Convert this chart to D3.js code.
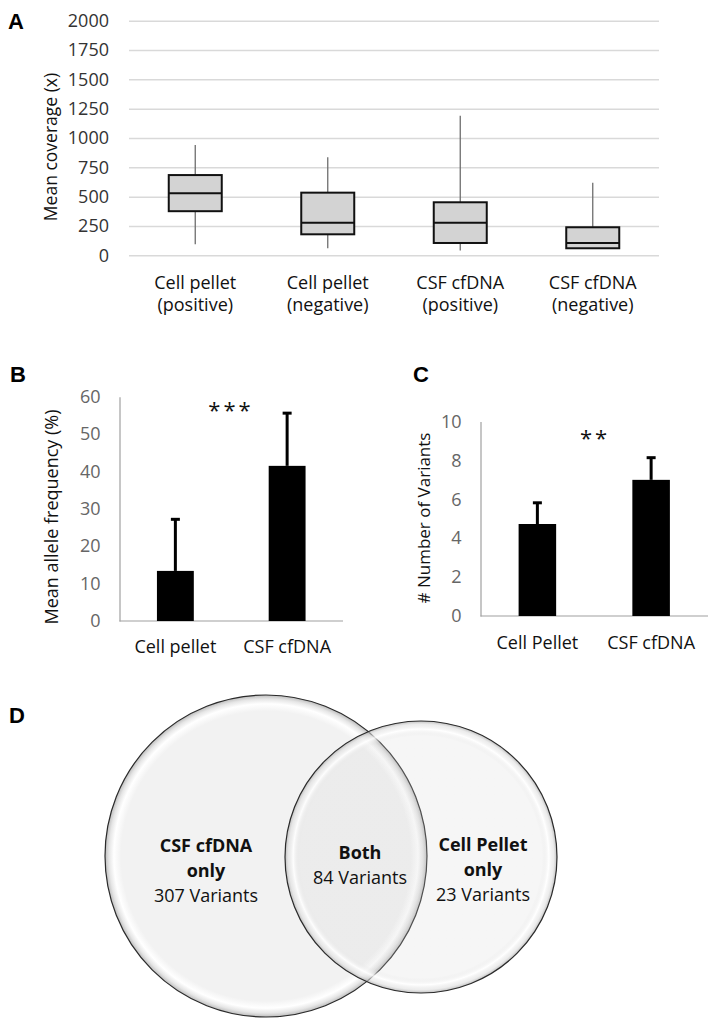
<!DOCTYPE html>
<html>
<head>
<meta charset="utf-8">
<script src="https://cdn.jsdelivr.net/npm/d3@7"></script>
<style>
  body { margin: 0; background: #fff; }
  svg { display: block; font-family: "Open Sans", "Noto Sans", sans-serif; }
  text.panel-letter { font-family: "Liberation Sans", Arial, sans-serif; font-weight: bold; font-size: 22px; }
</style>
</head>
<body>
<div id="figure"></div>
<script>
// panel A - mean coverage box plots
const coverageCategories = [
    ["Cell pellet", "(positive)"],
    ["Cell pellet", "(negative)"],
    ["CSF cfDNA", "(positive)"],
    ["CSF cfDNA", "(negative)"]
];
const coverageMin = [94, 60, 40, 55];
const coverageQ1 = [376, 179, 105, 60];
const coverageMedian = [530, 278, 278, 105];
const coverageQ3 = [684, 534, 452, 239];
const coverageMax = [940, 835, 1190, 619];
const coverageTicks = [0, 250, 500, 750, 1000, 1250, 1500, 1750, 2000];

// panel B - allele frequency
const afCategories = ["Cell pellet", "CSF cfDNA"];
const afMeans = [13.4, 41.5];
const afErrors = [13.8, 14.1];
const afTicks = [0, 10, 20, 30, 40, 50, 60];

// panel C - number of variants
const varCategories = ["Cell Pellet", "CSF cfDNA"];
const varMeans = [4.73, 7.0];
const varErrors = [1.09, 1.14];
const varTicks = [0, 2, 4, 6, 8, 10];

// panel D - venn
const vennLabels = [["CSF cfDNA", "only"], ["Both"], ["Cell Pellet", "only"]];
const vennCounts = [307, 84, 23];

const WIDTH = 711;
const HEIGHT = 1020;

const svg = d3.select("#figure").append("svg")
    .attr("width", WIDTH)
    .attr("height", HEIGHT);

// panel letters
[["A", 8, 29], ["B", 10, 382], ["C", 413, 382], ["D", 9, 723]].forEach(l => {
    svg.append("text").attr("class", "panel-letter")
        .attr("x", l[1]).attr("y", l[2]).text(l[0]);
});

// ---------- A ----------
function drawCoverage() {
    const left = 129, right = 659, top = 20.7, bottom = 255.3;
    const x = d3.scaleBand()
        .domain(coverageCategories.map((d, i) => i))
        .range([left, right]);
    const y = d3.scaleLinear().domain([0, 2000]).range([bottom, top]);

    const g = svg.append("g");

    // gridlines + tick labels
    const yAxis = d3.axisLeft(y)
        .tickValues(coverageTicks)
        .tickFormat(d3.format("d"))
        .tickSizeInner(-(right - left))
        .tickSizeOuter(0)
        .tickPadding(20);
    const ax = g.append("g")
        .attr("transform", `translate(${left},0)`)
        .call(yAxis);
    ax.select(".domain").remove();
    ax.selectAll(".tick line").attr("stroke", "#d9d9d9").attr("stroke-width", 1.5);
    ax.selectAll(".tick text")
        .attr("font-size", 18)
        .attr("fill", "#333")
        .attr("font-family", "Open Sans, sans-serif");

    const boxW = x.bandwidth() * 0.4;

    coverageCategories.forEach((c, i) => {
        const cx = x(i) + x.bandwidth() / 2;
        // whiskers
        g.append("line")
            .attr("x1", cx).attr("x2", cx)
            .attr("y1", y(coverageMax[i])).attr("y2", y(coverageQ3[i]))
            .attr("stroke", "#6e6e6e").attr("stroke-width", 1.3);
        g.append("line")
            .attr("x1", cx).attr("x2", cx)
            .attr("y1", y(coverageQ1[i])).attr("y2", y(coverageMin[i]))
            .attr("stroke", "#6e6e6e").attr("stroke-width", 1.3);
        // box
        g.append("rect")
            .attr("x", cx - boxW / 2)
            .attr("y", y(coverageQ3[i]))
            .attr("width", boxW)
            .attr("height", y(coverageQ1[i]) - y(coverageQ3[i]))
            .attr("fill", "#d3d3d3")
            .attr("stroke", "#111")
            .attr("stroke-width", 2);
        g.append("line")
            .attr("x1", cx - boxW / 2).attr("x2", cx + boxW / 2)
            .attr("y1", y(coverageMedian[i])).attr("y2", y(coverageMedian[i]))
            .attr("stroke", "#111").attr("stroke-width", 2);
        // category label (two lines)
        const t = g.append("text")
            .attr("text-anchor", "middle")
            .attr("font-size", 18)
            .attr("fill", "#111");
        c.forEach((line, j) => {
            t.append("tspan").attr("x", cx).attr("y", 289 + j * 22).text(line);
        });
    });

    g.append("text")
        .attr("transform", `translate(57,147) rotate(-90)`)
        .attr("text-anchor", "middle")
        .attr("font-size", 17.5)
        .attr("fill", "#111")
        .text("Mean coverage (x)");
}

// ---------- B and C bar charts ----------
function drawBars(opts) {
    const x = d3.scaleBand()
        .domain(opts.categories)
        .range([opts.left, opts.right])
        .paddingInner(0.67)
        .paddingOuter(0.335);
    const y = d3.scaleLinear().domain(opts.domain).range([opts.bottom, opts.top]);

    const g = svg.append("g");

    const yAxis = d3.axisLeft(y)
        .tickValues(opts.ticks)
        .tickSize(0)
        .tickPadding(opts.tickPad);
    const ax = g.append("g")
        .attr("transform", `translate(${opts.left},0)`)
        .call(yAxis);
    ax.select(".domain").attr("stroke", "#a0a0a0").attr("stroke-width", 1.2);
    ax.selectAll(".tick text")
        .attr("font-size", 18)
        .attr("fill", "#666")
        .attr("font-family", "Open Sans, sans-serif");

    // x axis line
    g.append("line")
        .attr("x1", opts.left).attr("x2", opts.right)
        .attr("y1", y(0)).attr("y2", y(0))
        .attr("stroke", "#a0a0a0").attr("stroke-width", 1.2);

    // bars
    g.selectAll(".bar")
        .data(opts.categories)
        .enter().append("rect")
        .attr("class", "bar")
        .attr("x", d => x(d))
        .attr("y", (d, i) => y(opts.means[i]))
        .attr("width", x.bandwidth())
        .attr("height", (d, i) => y(0) - y(opts.means[i]))
        .attr("fill", "#000");

    // error bars (upper only)
    opts.categories.forEach((c, i) => {
        const cx = x(c) + x.bandwidth() / 2;
        const yTop = y(opts.means[i] + opts.errors[i]);
        g.append("line")
            .attr("x1", cx).attr("x2", cx)
            .attr("y1", y(opts.means[i])).attr("y2", yTop)
            .attr("stroke", "#000").attr("stroke-width", 3);
        g.append("line")
            .attr("x1", cx - 4.5).attr("x2", cx + 4.5)
            .attr("y1", yTop).attr("y2", yTop)
            .attr("stroke", "#000").attr("stroke-width", 3);
        g.append("text")
            .attr("x", cx)
            .attr("y", opts.labelY)
            .attr("text-anchor", "middle")
            .attr("font-size", 18)
            .attr("fill", "#111")
            .text(c);
    });

    // significance stars
    g.append("text")
        .attr("x", opts.starX)
        .attr("y", opts.starY)
        .attr("text-anchor", "middle")
        .attr("font-size", 22)
        .attr("letter-spacing", 3)
        .attr("fill", "#111")
        .text(opts.stars);

    g.append("text")
        .attr("transform", `translate(${opts.titleX},${opts.titleY}) rotate(-90)`)
        .attr("text-anchor", "middle")
        .attr("font-size", opts.titleSize)
        .attr("fill", "#111")
        .text(opts.title);
}

drawCoverage();

drawBars({
    categories: afCategories, means: afMeans, errors: afErrors, ticks: afTicks,
    domain: [0, 60], left: 119.5, right: 343, top: 396.7, bottom: 621,
    tickPad: 19, labelY: 653, starX: 231, starY: 418, stars: "***",
    title: "Mean allele frequency (%)", titleX: 58, titleY: 517, titleSize: 18
});

drawBars({
    categories: varCategories, means: varMeans, errors: varErrors, ticks: varTicks,
    domain: [0, 10], left: 480.5, right: 708, top: 421.5, bottom: 616,
    tickPad: 19, labelY: 649, starX: 595, starY: 446, stars: "**",
    title: "# Number of Variants", titleX: 430, titleY: 518, titleSize: 17
});

// ---------- D venn ----------
function drawVenn() {
    const defs = svg.append("defs");

    const leftGrad = defs.append("radialGradient").attr("id", "vennLeft");
    [[0, "#f2f2f2", 1], [0.9, "#f2f2f2", 1], [0.945, "#ffffff", 1], [0.975, "#e6e6e6", 1], [1, "#bdbdbd", 1]]
        .forEach(s => leftGrad.append("stop").attr("offset", s[0]).attr("stop-color", s[1]).attr("stop-opacity", s[2]));

    const rightGrad = defs.append("radialGradient").attr("id", "vennRight");
    [[0, "#d6d6d6", 0.22], [0.89, "#d6d6d6", 0.22], [0.94, "#ffffff", 0.85], [0.975, "#dedede", 0.55], [1, "#aaaaaa", 0.75]]
        .forEach(s => rightGrad.append("stop").attr("offset", s[0]).attr("stop-color", s[1]).attr("stop-opacity", s[2]));

    // layout of the two sets (pixel positions, not data)
    const circles = [
        { cx: 266, cy: 856, r: 161, fill: "url(#vennLeft)" },
        { cx: 421, cy: 857, r: 136, fill: "url(#vennRight)" }
    ];
    svg.append("g").selectAll("circle")
        .data(circles)
        .enter().append("circle")
        .attr("cx", d => d.cx)
        .attr("cy", d => d.cy)
        .attr("r", d => d.r)
        .attr("fill", d => d.fill)
        .attr("stroke", "#2a2a2a")
        .attr("stroke-width", 1.2);

    const labelPos = [
        { x: 206, y: 852 },
        { x: 360, y: 859 },
        { x: 483, y: 851 }
    ];
    vennLabels.forEach((lines, i) => {
        const t = svg.append("text")
            .attr("text-anchor", "middle")
            .attr("font-size", 18)
            .attr("fill", "#111");
        lines.forEach((line, j) => {
            t.append("tspan")
                .attr("x", labelPos[i].x)
                .attr("y", labelPos[i].y + j * 25)
                .attr("font-weight", "bold")
                .text(line);
        });
        t.append("tspan")
            .attr("x", labelPos[i].x)
            .attr("y", labelPos[i].y + lines.length * 25)
            .text(vennCounts[i] + " Variants");
    });
}

drawVenn();
</script>
</body>
</html>
